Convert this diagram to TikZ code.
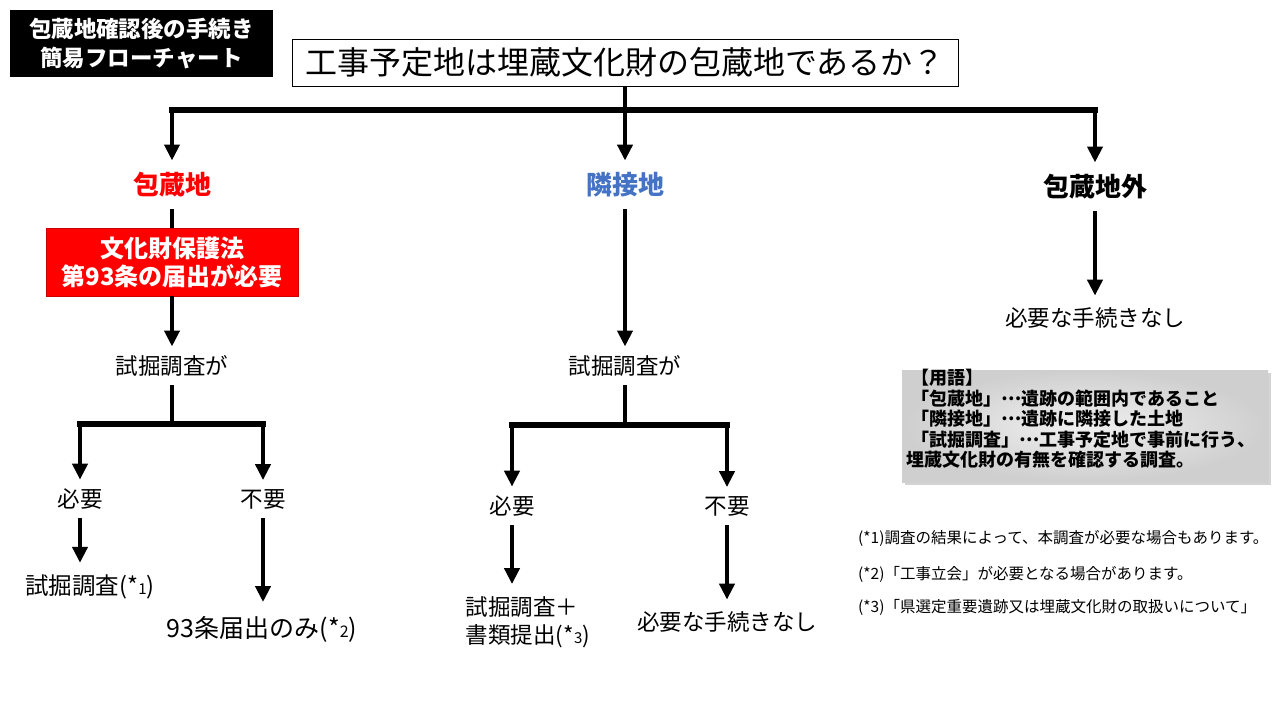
\documentclass[tikz,border=0pt]{standalone}
\usepackage{fontspec}
\newfontfamily\cjk{Noto Sans CJK JP}
\usetikzlibrary{arrows.meta,shadows}
\definecolor{hozored}{RGB}{255,0,0}
\definecolor{rinblue}{RGB}{68,114,196}
\newcommand{\fs}[1]{\fontsize{#1}{#1}\selectfont}
\newcommand{\mdots}{\raisebox{5pt}{…}}
\begin{document}
\begin{tikzpicture}[x=1pt,y=-1pt,
    lab/.style = {font=\cjk\fs{22.5}, inner sep=0pt, outer sep=9pt},
    head/.style = {font=\cjk\bfseries\fs{26}, inner sep=0pt, outer sep=12pt},
    arr/.style = {line width=4.5pt, -{Triangle[length=16pt,width=15pt]}},
    bar/.style = {line width=4.5pt},
    wide/.style = {line width=6.5pt, line cap=rect},
    note/.style = {font=\cjk\fs{15.5}, anchor=west, inner sep=0pt}]
\useasboundingbox (0,0) rectangle (1280,720);

% title and question
\node[fill=black, text=white, font=\cjk\bfseries\fs{22.5}, align=center,
      minimum width=263pt, minimum height=67pt, inner sep=0pt] (title) at (141.5,43.5)
      {包蔵地確認後の手続き\\[6pt]簡易フローチャート};
\node[draw, line width=1pt, font=\cjk\fs{32}, minimum width=666pt, minimum height=47pt,
      inner sep=0pt] (q) at (625,62.5) {工事予定地は埋蔵文化財の包蔵地であるか？};

\coordinate (top) at (625,110);
\coordinate (topl) at (172,110);
\coordinate (topr) at (1095,110);
\draw[bar] (q.south) -- (top);
\draw[wide] (topl) -- (topr);

\node[head, text=hozored] (hozo) at (172,185) {包蔵地};
\node[head, text=rinblue] (rin) at (625,185) {隣接地};
\node[head] (gai) at (1095,187) {包蔵地外};
\draw[arr] (topl) -- (hozo);
\draw[arr] (top) -- (rin);
\draw[arr] (topr) -- (gai);

% left branch
\node[fill=hozored, draw=red!80!black, text=white, font=\cjk\bfseries\fs{24}, align=center,
      minimum width=252pt, minimum height=68pt, inner sep=0pt] (law) at (172,262)
      {文化財保護法\\[4pt]第93条の届出が必要};
\node[lab] (testl) at (172,366) {試掘調査が};
\draw[bar] (hozo) -- (law.north);
\draw[arr] (law.south) -- (testl);

\coordinate (spl) at (172,424);
\coordinate (spl1) at (80,424);
\coordinate (spl2) at (263,424);
\draw[bar] (testl) -- (spl);
\draw[wide] (spl1) -- (spl2);
\node[lab] (needl) at (80,499) {必要};
\node[lab] (nonel) at (263,499) {不要};
\draw[arr] (spl1) -- (needl);
\draw[arr] (spl2) -- (nonel);
\node[lab, font=\cjk\fs{23.5}, outer sep=12pt] (resl1) at (90,587) {試掘調査(*{\fs{15}1})};
\node[lab, font=\cjk\fs{25}, outer sep=14pt] (resl2) at (262,629) {93条届出のみ(*{\fs{16}2})};
\draw[arr] (needl) -- (resl1.north -| needl);
\draw[arr] (nonel) -- (resl2.north -| nonel);

% middle branch
\node[lab] (testm) at (625,366) {試掘調査が};
\draw[arr] (rin) -- (testm);
\coordinate (spm) at (625,425);
\coordinate (spm1) at (512,425);
\coordinate (spm2) at (727,425);
\draw[bar] (testm) -- (spm);
\draw[wide] (spm1) -- (spm2);
\node[lab] (needm) at (512,506) {必要};
\node[lab] (nonem) at (727,506) {不要};
\draw[arr] (spm1) -- (needm);
\draw[arr] (spm2) -- (nonem);
\node[lab, align=left, outer sep=12pt] (resm1) at (528,622)
      {試掘調査＋\\[6pt]書類提出(*{\fs{15}3})};
\node[lab, outer sep=12pt] (resm2) at (727,622) {必要な手続きなし};
\draw[arr] (needm) -- (resm1.north -| needm);
\draw[arr] (nonem) -- (resm2);

% right branch
\node[lab, outer sep=12pt] (resr) at (1095,318) {必要な手続きなし};
\draw[arr] (gai) -- (resr);

% glossary
\node[drop shadow={opacity=0.35, shadow xshift=3pt, shadow yshift=-3pt},
      inner color=gray!12, outer color=gray!38, minimum width=366pt, minimum height=112pt,
      inner sep=0pt] (terms) at (1085,426) {};
\node[font=\cjk\bfseries\fs{18}, align=left, anchor=north west, inner sep=0pt] (termtxt)
      at (906,369) {\hspace*{5pt}【用語】\\[2.5pt]
      \hspace*{5pt}「包蔵地」\mdots 遺跡の範囲内であること\\[2.5pt]
      \hspace*{5pt}「隣接地」\mdots 遺跡に隣接した土地\\[2.5pt]
      \hspace*{5pt}「試掘調査」\mdots 工事予定地で事前に行う、\\[2.5pt]
      埋蔵文化財の有無を確認する調査。};

% notes
\node[note] (n1) at (858,538) {(*1)調査の結果によって、本調査が必要な場合もあります。};
\node[note] (n2) at (858,574) {(*2)「工事立会」が必要となる場合があります。};
\node[note] (n3) at (858,607) {(*3)「県選定重要遺跡又は埋蔵文化財の取扱いについて」};
\end{tikzpicture}
\end{document}
